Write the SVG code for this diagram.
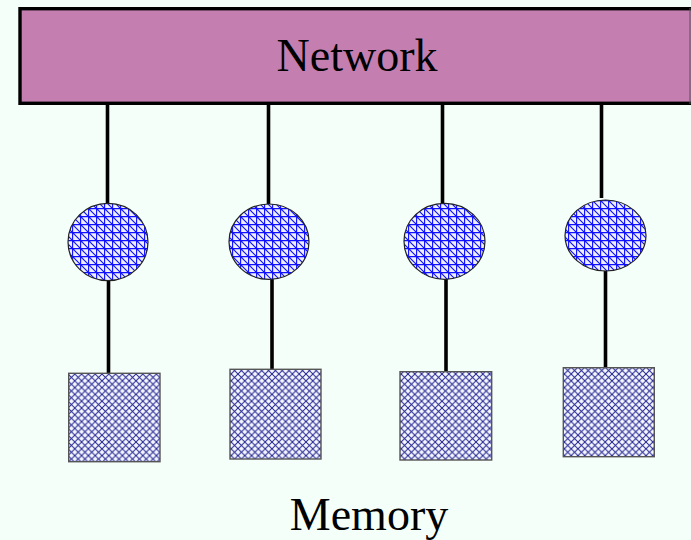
<svg xmlns="http://www.w3.org/2000/svg" width="691" height="540" viewBox="0 0 691 540">
  <style>
    .label { font-family: "Liberation Serif", "Times New Roman", serif; font-size: 46px; fill: #000; text-anchor: middle; }
    .wire { stroke: #000; stroke-width: 3.6; fill: none; }
    .proc { fill: url(#gridHatch); stroke: #222; stroke-width: 1.2; }
    .mem { fill: url(#crossHatch); stroke: #555; stroke-width: 1.4; }
  </style>
  <defs>
    <!-- square grid with a diagonal, used for the processors -->
    <pattern id="gridHatch" width="8" height="8" patternUnits="userSpaceOnUse">
      <rect width="8" height="8" fill="#eef0ff"/>
      <path d="M0 0.6H8M0.6 0V8M0 0L8 8" stroke="#1010ff" stroke-width="1.15" fill="none"/>
    </pattern>
    <!-- diagonal cross hatch, used for the memories -->
    <pattern id="crossHatch" width="6.8" height="6.8" patternUnits="userSpaceOnUse">
      <rect width="6.8" height="6.8" fill="#f5f8ff"/>
      <path d="M0 0L6.8 6.8M6.8 0L0 6.8" stroke="#22228f" stroke-width="1" fill="none"/>
    </pattern>
  </defs>

  <rect width="691" height="540" fill="#f5fffa"/>

  <g id="connectors">
    <line class="wire" x1="107.5" y1="103" x2="107.5" y2="204"/>
    <line class="wire" x1="108.5" y1="280" x2="108.5" y2="374"/>
    <line class="wire" x1="268.5" y1="103" x2="268.5" y2="204"/>
    <line class="wire" x1="272" y1="278" x2="272" y2="370"/>
    <line class="wire" x1="442.5" y1="103" x2="442.5" y2="204"/>
    <line class="wire" x1="446" y1="278" x2="446" y2="372"/>
    <line class="wire" x1="601.5" y1="100" x2="601.5" y2="198"/>
    <line class="wire" x1="605.5" y1="270" x2="605.5" y2="368"/>
  </g>

  <g id="network">
    <rect x="20" y="8.7" width="675" height="94.6" fill="#c47fb0" stroke="#000" stroke-width="3.4"/>
    <line x1="690" y1="8" x2="690" y2="104" stroke="#555" stroke-width="1"/>
    <text class="label" x="357" y="71">Network</text>
  </g>

  <g id="proc1"><ellipse class="proc" cx="108" cy="242" rx="40" ry="38.7"/></g>
  <g id="proc2"><ellipse class="proc" cx="269" cy="241.7" rx="40" ry="37.7"/></g>
  <g id="proc3"><ellipse class="proc" cx="444.5" cy="241.3" rx="40.5" ry="38"/></g>
  <g id="proc4"><ellipse class="proc" cx="605.5" cy="235.5" rx="40.5" ry="35.5"/></g>

  <g id="mem1"><rect class="mem" x="68.7" y="373.3" width="91.3" height="88.4"/></g>
  <g id="mem2"><rect class="mem" x="230" y="369.3" width="91" height="89.7"/></g>
  <g id="mem3"><rect class="mem" x="400" y="371.7" width="91.7" height="88.3"/></g>
  <g id="mem4"><rect class="mem" x="563.3" y="367.7" width="91" height="89"/></g>

  <g id="memory-label">
    <text class="label" x="369" y="530">Memory</text>
  </g>
</svg>
